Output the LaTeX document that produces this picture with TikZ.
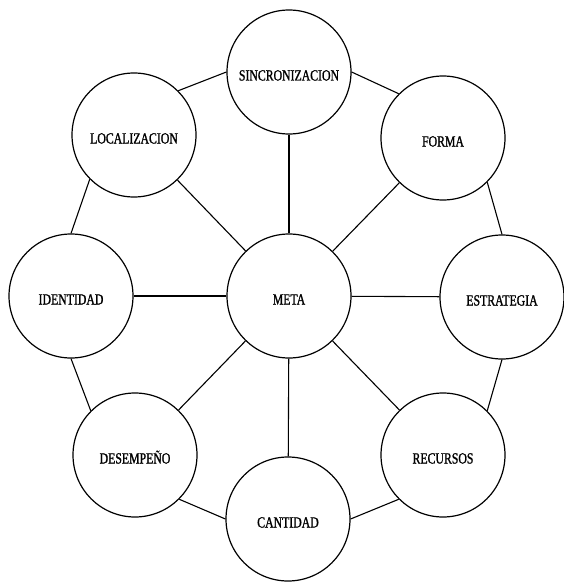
\documentclass[tikz,border=0pt]{standalone}
\usepackage{fontspec}
\newfontfamily\lblfont[FakeStretch=0.76,FakeBold=1.2]{Liberation Serif}
\begin{document}
\begin{tikzpicture}[x=1pt,y=-1pt,
  bubble/.style={circle,draw=black,line width=1.2pt,minimum size=124pt,inner sep=0pt,
    font=\lblfont\fontsize{15.5}{16}\selectfont,text height=17pt,text depth=0pt},
  link/.style={draw=black,line width=1.1pt}]
\useasboundingbox (0,0) rectangle (564,583);
% hub and surrounding circles
\node[bubble] (meta)   at (289,296) {META};
\node[bubble] (sinc)   at (289,72)  {SINCRONIZACION};
\node[bubble] (forma)  at (443,138) {FORMA};
\node[bubble] (estr)   at (502,297) {ESTRATEGIA};
\node[bubble] (recur)  at (443,455) {RECURSOS};
\node[bubble] (cant)   at (288,519) {CANTIDAD};
\node[bubble] (desemp) at (135,455) {DESEMPEÑO};
\node[bubble] (ident)  at (71,296)  {IDENTIDAD};
\node[bubble] (loc)    at (134,135) {LOCALIZACION};
% spokes from the hub
\foreach \n in {sinc,forma,estr,recur,cant,desemp,ident,loc}
  \draw[link] (meta) -- (\n);
% outer ring
\draw[link] (sinc.east) -- (forma.north west);
\draw[link] (forma.south east) -- (estr.north);
\draw[link] (estr.south) -- (recur.north east);
\draw[link] (recur.south west) -- (cant.east);
\draw[link] (cant.west) -- (desemp.south east);
\draw[link] (desemp.north west) -- (ident.south);
\draw[link] (ident.north) -- (loc.south west);
\draw[link] (loc.north east) -- (sinc.west);
\end{tikzpicture}
\end{document}
